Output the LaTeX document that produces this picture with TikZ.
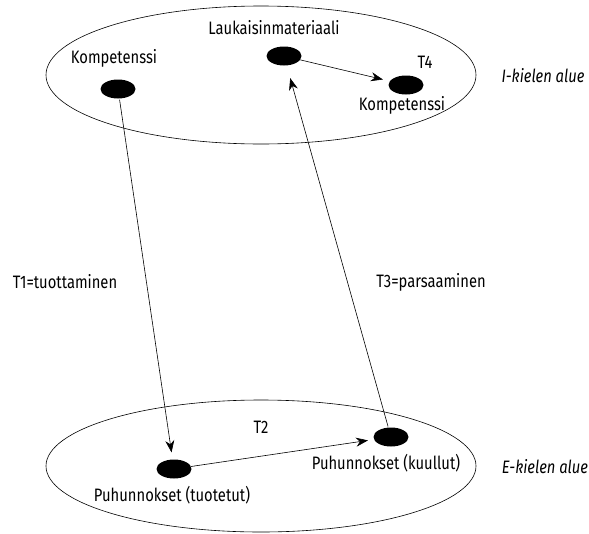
\documentclass[tikz,border=0pt]{standalone}
\usepackage{fontspec}
\setmainfont{Fira Sans}[FakeStretch=0.82]
\usetikzlibrary{arrows.meta,shapes.geometric}
\begin{document}
\begin{tikzpicture}[x=1pt,y=-1pt,
  region/.style={draw,line width=0.6pt},
  blob/.style={ellipse,fill=black,minimum width=35pt,minimum height=19pt,inner sep=0pt},
  lbl/.style={font=\fontsize{18}{20}\selectfont,inner sep=0pt},
  area/.style={font=\fontsize{18}{20}\selectfont\itshape,inner sep=0pt},
  link/.style={draw,line width=0.6pt,-{Stealth[length=12pt,width=9pt]}}]
\useasboundingbox (0,0) rectangle (589,533);
% the two language regions
\draw[region] (261,75) ellipse [x radius=215, y radius=69];
\draw[region] (261,466) ellipse [x radius=215, y radius=66];
% points inside the regions
\node[blob] (kompA) at (118,89) {};
\node[blob] (lauk)  at (284,56) {};
\node[blob] (kompB) at (406,85) {};
\node[blob] (tuot)  at (174,469) {};
\node[blob] (kuul)  at (391,437) {};
% labels
\node[lbl] at (114,58) {Kompetenssi};
\node[lbl] at (274,28) {Laukaisinmateriaali};
\node[lbl] at (425,62) {T4};
\node[lbl] at (402,105) {Kompetenssi};
\node[lbl] at (65,282) {T1=tuottaminen};
\node[lbl] at (431,282) {T3=parsaaminen};
\node[lbl] at (261,427) {T2};
\node[lbl] at (386,463) {Puhunnokset (kuullut)};
\node[lbl] at (172,495) {Puhunnokset (tuotetut)};
\node[area] at (543,76) {I-kielen alue};
\node[area] at (545,467) {E-kielen alue};
% transitions
\draw[link,shorten <=1pt,shorten >=7pt] (kompA) -- (tuot);
\draw[link,shorten <=1pt,shorten >=13pt] (kuul) -- (lauk);
\draw[link,shorten >=7pt] (lauk) -- (kompB);
\draw[link,shorten >=6pt] (tuot) -- (kuul);
\end{tikzpicture}
\end{document}
